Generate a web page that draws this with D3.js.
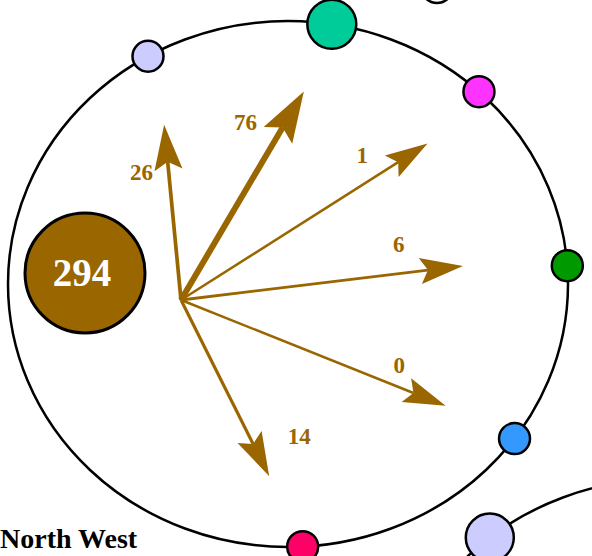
<!DOCTYPE html>
<html>
<head>
<meta charset="utf-8">
<script src="https://cdn.jsdelivr.net/npm/d3@7"></script>
<style>
html, body { margin: 0; padding: 0; background: #fff; overflow: hidden; }
svg { display: block; }
text { font-family: "Liberation Serif", "Times New Roman", serif; font-weight: bold; }
</style>
</head>
<body>
<svg width="592" height="556"></svg>
<script>
// North West: people who stayed, and flows out to the regions round the ring
const region = "North West";
const stayed = 294;
const targets = ["lavender", "teal", "magenta", "green", "blue", "pink"];
const flows = [26, 76, 1, 6, 0, 14];
const nodeColors = ["#ccccff", "#00cc99", "#ff33ff", "#009900", "#3399ff", "#ff0066"];

// layout: node angle on the ring (deg), arrow angle (deg) and reach from origin,
// label position along the arrow (fraction) and off to its side (px)
const nodeAngles = [-120, -81, -47, -4, 36, 87];
const nodeRadius = [15.5, 24.5, 15.5, 15.5, 15.5, 15.5];
const arrowAngles = [-95.5, -59.5, -32.4, -6.9, 21.8, 63.4];
const arrowReach = [176, 242, 292, 284, 285, 197];
const labelAlong = [0.745, 0.77, 0.79, 0.785, 0.795, 0.885];
const labelSide = [27, 35, 25, 29, 21, 45];

const svg = d3.select("svg"),
    ring = {cx: 288, cy: 284, rx: 280, ry: 263},
    origin = [181, 300],
    brown = "#996600",
    rad = Math.PI / 180;

const w = d3.scaleLinear()
    .domain([0, d3.max(flows)])
    .range([2.5, 6]);

// neighbouring panels peeking in
svg.append("ellipse")
    .attr("cx", 666).attr("cy", 742)
    .attr("rx", ring.rx).attr("ry", ring.ry)
    .attr("fill", "none").attr("stroke", "#000").attr("stroke-width", 2.5);
svg.append("circle")
    .attr("cx", 666 + ring.rx * Math.cos(-129 * rad))
    .attr("cy", 742 + ring.ry * Math.sin(-129 * rad))
    .attr("r", 24)
    .attr("fill", "#ccccff").attr("stroke", "#000").attr("stroke-width", 2.5);
svg.append("circle")
    .attr("cx", 437).attr("cy", -13).attr("r", 16)
    .attr("fill", "#fff").attr("stroke", "#000").attr("stroke-width", 2.5);

// the ring
svg.append("ellipse")
    .attr("cx", ring.cx).attr("cy", ring.cy)
    .attr("rx", ring.rx).attr("ry", ring.ry)
    .attr("fill", "none").attr("stroke", "#000").attr("stroke-width", 2.5);

svg.append("g")
  .selectAll("circle")
  .data(targets)
  .enter().append("circle")
    .attr("cx", function(d, i) { return ring.cx + ring.rx * Math.cos(nodeAngles[i] * rad); })
    .attr("cy", function(d, i) { return ring.cy + ring.ry * Math.sin(nodeAngles[i] * rad); })
    .attr("r", function(d, i) { return nodeRadius[i]; })
    .attr("fill", function(d, i) { return nodeColors[i]; })
    .attr("stroke", "#000")
    .attr("stroke-width", 2.5);

// stayed in region
svg.append("circle")
    .attr("cx", 85).attr("cy", 273).attr("r", 60)
    .attr("fill", brown).attr("stroke", "#000").attr("stroke-width", 3);
svg.append("text")
    .attr("x", 82).attr("y", 286)
    .attr("text-anchor", "middle")
    .attr("font-size", 39)
    .attr("fill", "#fff")
    .text(stayed);

// arrows
const arrows = flows.map(function(v, i) {
  const a = arrowAngles[i] * rad,
      dx = Math.cos(a), dy = Math.sin(a),
      sw = w(v),
      hl = 36 + 2.5 * sw,
      hw = 10 + 1.1 * sw,
      notch = 0.18 * hl,
      tip = [origin[0] + dx * arrowReach[i], origin[1] + dy * arrowReach[i]],
      back = [tip[0] - dx * hl, tip[1] - dy * hl],
      s = arrowReach[i] * labelAlong[i];
  return {
    value: v, sw: sw,
    end: [tip[0] - dx * (hl - notch), tip[1] - dy * (hl - notch)],
    head: [tip,
      [back[0] + dy * hw, back[1] - dx * hw],
      [tip[0] - dx * (hl - notch), tip[1] - dy * (hl - notch)],
      [back[0] - dy * hw, back[1] + dx * hw]],
    label: [origin[0] + dx * s + dy * labelSide[i], origin[1] + dy * s - dx * labelSide[i]]
  };
});

const ag = svg.append("g");
ag.selectAll("line")
  .data(arrows)
  .enter().append("line")
    .attr("x1", origin[0]).attr("y1", origin[1])
    .attr("x2", function(d) { return d.end[0]; })
    .attr("y2", function(d) { return d.end[1]; })
    .attr("stroke", brown)
    .attr("stroke-width", function(d) { return d.sw; });
ag.selectAll("path")
  .data(arrows)
  .enter().append("path")
    .attr("d", function(d) { return "M" + d.head.join("L") + "Z"; })
    .attr("fill", brown);
ag.selectAll("text")
  .data(arrows)
  .enter().append("text")
    .attr("x", function(d) { return d.label[0]; })
    .attr("y", function(d) { return d.label[1] + 8; })
    .attr("text-anchor", "middle")
    .attr("font-size", 23)
    .attr("fill", brown)
    .text(function(d) { return d.value; });

svg.append("text")
    .attr("x", 0).attr("y", 548)
    .attr("font-size", 28)
    .attr("fill", "#000")
    .text(region);
</script>
</body>
</html>
